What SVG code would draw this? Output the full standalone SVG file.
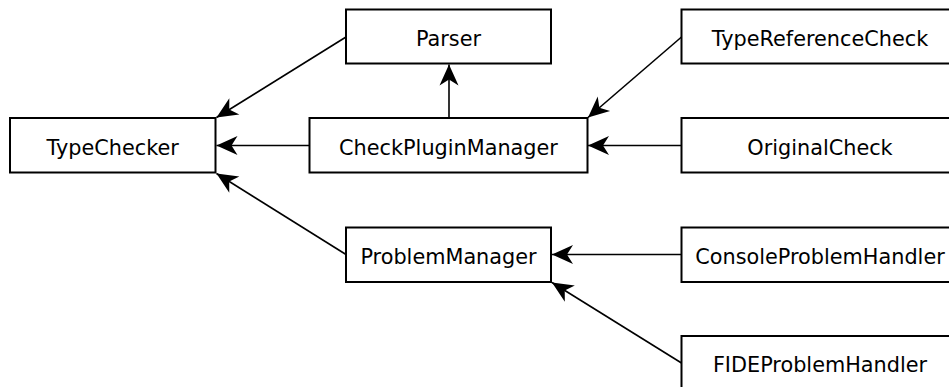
<svg xmlns="http://www.w3.org/2000/svg" width="949" height="387" viewBox="0 0 949 387">
  <style>
    .box { fill: #ffffff; stroke: #000000; stroke-width: 2; }
    .label { font-family: "DejaVu Sans", "Liberation Sans", sans-serif; font-size: 20.8px; fill: #000000; text-anchor: middle; }
    .edge { fill: none; stroke: #000000; stroke-width: 1.6; marker-end: url(#arrow); }
  </style>
  <defs>
    <marker id="arrow" markerUnits="userSpaceOnUse" viewBox="-23 -12 25 24" markerWidth="25" markerHeight="24" refX="0" refY="0" orient="auto">
      <path d="M0,0 L-21,-9.5 L-15,0 L-21,9.5 Z" fill="#000000"/>
    </marker>
  </defs>
  <rect width="949" height="387" fill="#ffffff"/>

  <g id="connectors">
    <line class="edge" x1="346" y1="37" x2="216.5" y2="117.5"/>
    <line class="edge" x1="309.5" y1="145.5" x2="216.5" y2="145.5"/>
    <line class="edge" x1="346" y1="254.5" x2="216.5" y2="173.5"/>
    <line class="edge" x1="449" y1="118" x2="449" y2="64.5"/>
    <line class="edge" x1="681.5" y1="37" x2="588" y2="117.5"/>
    <line class="edge" x1="681.5" y1="145.5" x2="588" y2="145.5"/>
    <line class="edge" x1="681.5" y1="254.5" x2="552" y2="254.5"/>
    <line class="edge" x1="681.5" y1="363" x2="552" y2="282.5"/>
  </g>

  <g id="TypeChecker">
    <rect class="box" x="10" y="118" width="205.5" height="54.5"/>
    <text class="label" x="112.75" y="154.5">TypeChecker</text>
  </g>
  <g id="Parser">
    <rect class="box" x="346" y="9.5" width="205" height="54"/>
    <text class="label" x="448.5" y="45.5">Parser</text>
  </g>
  <g id="CheckPluginManager">
    <rect class="box" x="309.5" y="118" width="278" height="54.5"/>
    <text class="label" x="448.5" y="154.5">CheckPluginManager</text>
  </g>
  <g id="ProblemManager">
    <rect class="box" x="346" y="227.5" width="205" height="54.5"/>
    <text class="label" x="448.5" y="263.5">ProblemManager</text>
  </g>
  <g id="TypeReferenceCheck">
    <rect class="box" x="681.5" y="9.5" width="277" height="54"/>
    <text class="label" x="820" y="45.5">TypeReferenceCheck</text>
  </g>
  <g id="OriginalCheck">
    <rect class="box" x="681.5" y="118" width="277" height="54.5"/>
    <text class="label" x="820" y="154.5">OriginalCheck</text>
  </g>
  <g id="ConsoleProblemHandler">
    <rect class="box" x="681.5" y="227.5" width="277" height="54.5"/>
    <text class="label" x="820" y="263.5">ConsoleProblemHandler</text>
  </g>
  <g id="FIDEProblemHandler">
    <rect class="box" x="681.5" y="336" width="277" height="54.5"/>
    <text class="label" x="820" y="372">FIDEProblemHandler</text>
  </g>
</svg>
